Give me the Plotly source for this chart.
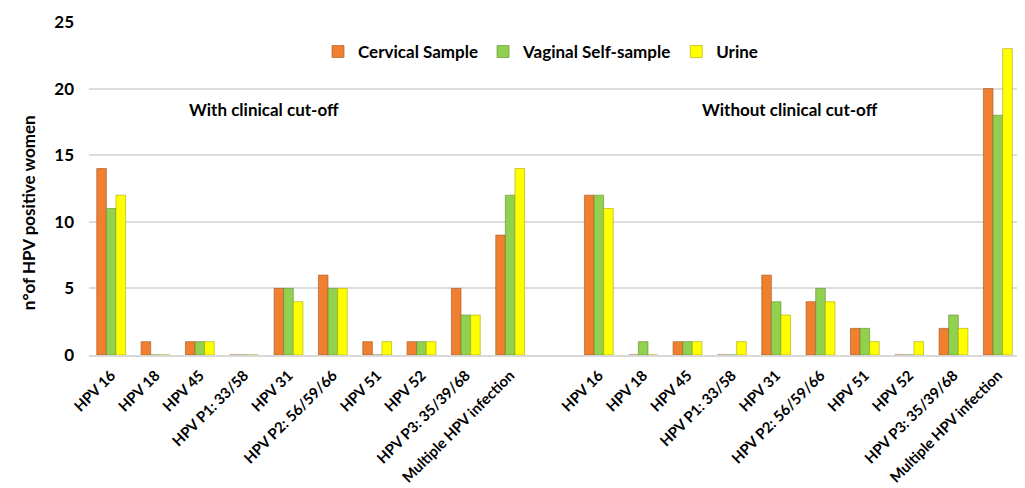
import plotly.graph_objects as go

categories = ["HPV 16", "HPV 18", "HPV 45", "HPV P1: 33/58", "HPV 31",
              "HPV P2: 56/59/66", "HPV 51", "HPV 52", "HPV P3: 35/39/68",
              "Multiple HPV infection"]

# With clinical cut-off
cervical_with = [14, 1, 1, 0, 5, 6, 1, 1, 5, 9]
vaginal_with = [11, 0, 1, 0, 5, 5, 0, 1, 3, 12]
urine_with = [12, 0, 1, 0, 4, 5, 1, 1, 3, 14]

# Without clinical cut-off
cervical_without = [12, 0, 1, 0, 6, 4, 2, 0, 2, 20]
vaginal_without = [12, 1, 1, 0, 4, 5, 2, 0, 3, 18]
urine_without = [11, 0, 1, 1, 3, 4, 1, 1, 2, 23]

series_names = ["Cervical Sample", "Vaginal Self-sample", "Urine"]
colors = ["#F08030", "#92D050", "#FFFF00"]
edge_colors = ["#A0521E", "#5E8A2E", "#A8A800"]

n = len(categories)
x_pos = list(range(n)) + list(range(n + 1, 2 * n + 1))
tick_text = categories + categories

series = [cervical_with + cervical_without,
          vaginal_with + vaginal_without,
          urine_with + urine_without]

fig = go.Figure()
for name, vals, c, ec in zip(series_names, series, colors, edge_colors):
    fig.add_trace(go.Bar(x=x_pos, y=vals, name=name,
                         marker=dict(color=c, line=dict(color=ec, width=0.6))))

font_family = "Lato, 'Open Sans', sans-serif"
bold = dict(family=font_family, weight="bold", color="#000000")
fig.update_layout(
    width=1025, height=488,
    margin=dict(l=81, r=13, t=14, b=141),
    paper_bgcolor="white", plot_bgcolor="white",
    barmode="group", bargap=0.35, bargroupgap=0,
    font=dict(family=font_family, color="#000000"),
    showlegend=True,
    legend=dict(orientation="h", x=0.485, xanchor="center", y=0.91, yanchor="middle",
                font=dict(size=17, **bold),
                itemwidth=30, traceorder="normal", bgcolor="rgba(0,0,0,0)"),
    xaxis=dict(range=[-0.5, 2 * n + 0.5], tickmode="array", tickvals=x_pos,
               ticktext=tick_text, tickangle=-45, showgrid=False,
               showline=True, linecolor="#D9D9D9", linewidth=2,
               ticks="", ticklabelstandoff=4, automargin=False,
               tickfont=dict(size=14.8, **bold)),
    yaxis=dict(range=[0, 25], dtick=5, showgrid=True, gridcolor="#DDDDDD", gridwidth=2,
               zeroline=False, showline=False, ticks="", automargin=False,
               ticklabelstandoff=14,
               tickfont=dict(size=17, **bold)),
    annotations=[
        dict(text="n°of HPV positive women", textangle=-90, x=-0.0655, y=0.426,
             xref="paper", yref="paper", xanchor="center", yanchor="middle",
             showarrow=False, font=dict(size=17, **bold)),
        dict(text="With clinical cut-off", x=3.45, y=18.4, xref="x", yref="y",
             showarrow=False, font=dict(size=17, **bold)),
        dict(text="Without clinical cut-off", x=15.31, y=18.4, xref="x", yref="y",
             showarrow=False, font=dict(size=17, **bold)),
    ],
)

fig.write_html("out.html")
